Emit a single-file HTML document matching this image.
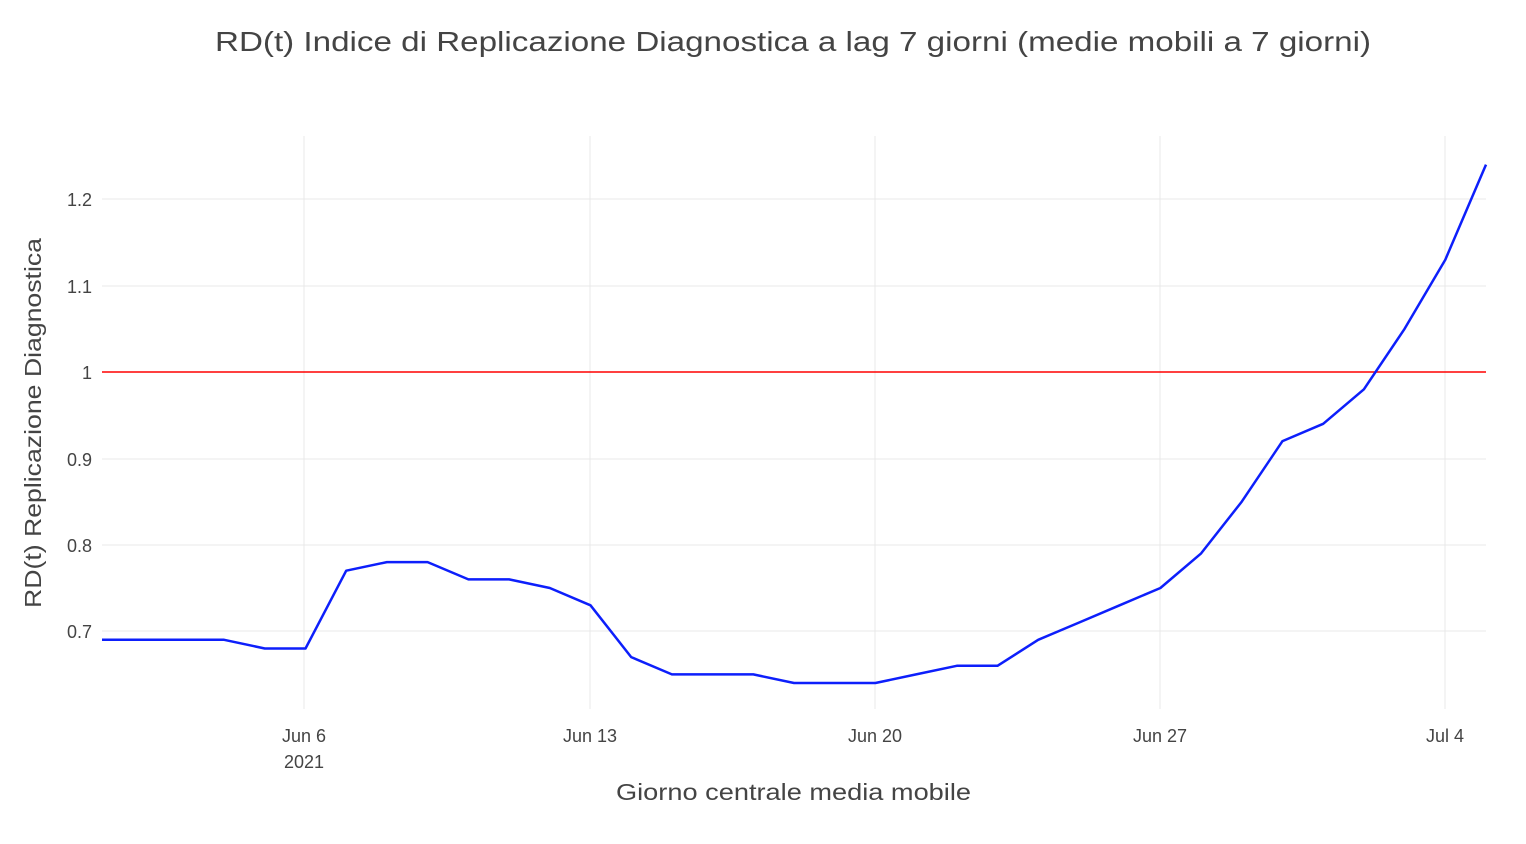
<!DOCTYPE html>
<html><head><meta charset="utf-8"><style>body{margin:0;background:#fff}svg{display:block}</style></head><body>
<svg width="1526" height="844" xmlns="http://www.w3.org/2000/svg" font-family="Liberation Sans, DejaVu Sans, sans-serif">
<rect width="1526" height="844" fill="#fff"/>
<g stroke="#e8e8e8" stroke-width="1">
<line x1="102" x2="1486" y1="199" y2="199"/><line x1="102" x2="1486" y1="286" y2="286"/><line x1="102" x2="1486" y1="459" y2="459"/><line x1="102" x2="1486" y1="545" y2="545"/><line x1="102" x2="1486" y1="631" y2="631"/>
<line x1="304" x2="304" y1="136" y2="709"/><line x1="590" x2="590" y1="136" y2="709"/><line x1="875" x2="875" y1="136" y2="709"/><line x1="1160" x2="1160" y1="136" y2="709"/><line x1="1445" x2="1445" y1="136" y2="709"/>
</g>
<line x1="102" x2="1486" y1="372" y2="372" stroke="#ff0000" stroke-width="1.5"/>
<polyline fill="none" stroke="#0d1ffb" stroke-width="2.5" stroke-linejoin="round" points="102,639.8 142.7,639.8 183.4,639.8 224.1,639.8 264.8,648.5 305.5,648.5 346.2,570.7 386.9,562.1 427.6,562.1 468.4,579.4 509.1,579.4 549.8,588 590.5,605.3 631.2,657.1 671.9,674.4 712.6,674.4 753.3,674.4 794,683 834.7,683 875.4,683 916.1,674.4 956.8,665.8 997.5,665.8 1038.2,639.8 1078.9,622.6 1119.6,605.3 1160.4,588 1201.1,553.4 1241.8,501.6 1282.5,441.1 1323.2,423.8 1363.9,389.3 1404.6,328.8 1445.3,259.7 1486,164.6"/>
<g fill="#444" font-size="18" text-anchor="end">
<text x="92" y="206">1.2</text><text x="92" y="293">1.1</text><text x="92" y="379">1</text><text x="92" y="466">0.9</text><text x="92" y="552">0.8</text><text x="92" y="638">0.7</text>
</g>
<g fill="#444" font-size="18" text-anchor="middle">
<text x="304" y="742">Jun 6</text><text x="304" y="768">2021</text><text x="590" y="742">Jun 13</text><text x="875" y="742">Jun 20</text><text x="1160" y="742">Jun 27</text><text x="1445" y="742">Jul 4</text>
</g>
<text x="616" y="800" fill="#444" font-size="23" textLength="355" lengthAdjust="spacingAndGlyphs">Giorno centrale media mobile</text>
<text transform="translate(41,608) rotate(-90)" fill="#444" font-size="23" textLength="370" lengthAdjust="spacingAndGlyphs">RD(t) Replicazione Diagnostica</text>
<text x="215" y="51" fill="#444" font-size="28" textLength="1156" lengthAdjust="spacingAndGlyphs">RD(t) Indice di Replicazione Diagnostica a lag 7 giorni (medie mobili a 7 giorni)</text>
</svg>
</body></html>
